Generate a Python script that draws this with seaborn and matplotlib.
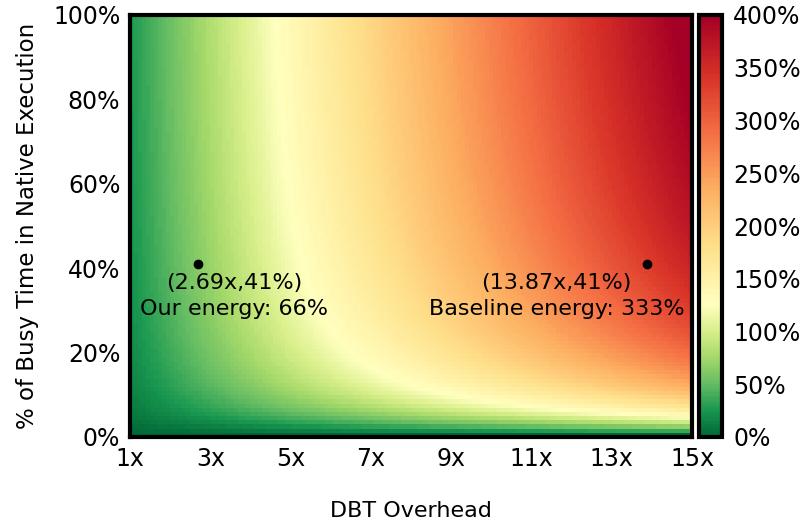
import numpy as np
import pandas as pd
import matplotlib
matplotlib.use("Agg")
import matplotlib.pyplot as plt
import seaborn as sns
from matplotlib.colors import ListedColormap

# ---- data ----
overhead = np.round(np.arange(1.0, 15.0001, 0.1), 1)      # DBT overhead grid (x)
busy = np.round(np.arange(0.0, 1.00001, 0.01), 2)         # busy fraction grid (y)
dyn_power_ratio = 0.273     # energy model parameter
idle_power_ratio = 0.10     # energy model parameter
x_tick_labels = ["1x", "3x", "5x", "7x", "9x", "11x", "13x", "15x"]
y_tick_labels = ["0%", "20%", "40%", "60%", "80%", "100%"]
cbar_ticks = [0, 50, 100, 150, 200, 250, 300, 350, 400]
point_overhead = [2.69, 13.87]
point_busy = [0.41, 0.41]
point_labels = ["(2.69x,41%)\nOur energy: 66%", "(13.87x,41%)\nBaseline energy: 333%"]

# ---- surface ----
X, B = np.meshgrid(overhead, busy)
energy = 100 * dyn_power_ratio * B * X / (B + idle_power_ratio * (1 - B))
df = pd.DataFrame(energy, index=busy, columns=overhead).iloc[::-1]

# colormap: RdYlGn_r with the light yellow centre at 125%
base = plt.get_cmap("RdYlGn_r")
n1, n2 = 80, 176
cmap = ListedColormap(base(np.concatenate([np.linspace(0, 0.5, n1, endpoint=False),
                                           np.linspace(0.5, 1, n2)])))

fig = plt.figure(figsize=(8.05, 5.22), dpi=100)
ax = fig.add_axes([130 / 805, 85 / 522, 562 / 805, 422 / 522])
cax = fig.add_axes([699 / 805, 85 / 522, 23 / 805, 422 / 522])

sns.heatmap(df, ax=ax, cmap=cmap, vmin=0, vmax=400, cbar_ax=cax,
            xticklabels=False, yticklabels=False)

ncols, nrows = df.shape[1], df.shape[0]
ax.set_xticks(np.linspace(0, ncols, len(x_tick_labels)))
ax.set_xticklabels(x_tick_labels, fontsize=17, rotation=0)
ax.set_yticks(np.linspace(nrows, 0, len(y_tick_labels)))
ax.set_yticklabels(y_tick_labels, fontsize=17, rotation=0)
ax.tick_params(length=0, pad=7)
ax.set_xlabel("DBT Overhead", fontsize=16, labelpad=22)
ax.set_ylabel("% of Busy Time in Native Execution", fontsize=16.5, labelpad=10)

for s in ax.spines.values():
    s.set_visible(True)
    s.set_linewidth(3)
    s.set_color("black")

def to_pos(xv, bv):
    return (xv - 1) / 14 * ncols, (1 - bv) * nrows

offsets = [(26, -23), (-65, -23)]
for xv, bv, lab, off in zip(point_overhead, point_busy, point_labels, offsets):
    px, py = to_pos(xv, bv)
    ax.plot(px, py, "o", color="black", ms=6)
    ax.annotate(lab, (px, py), xytext=off, textcoords="offset points",
                ha="center", va="center", multialignment="center",
                fontsize=16, linespacing=1.4)

cbar = ax.collections[0].colorbar
cbar.set_ticks(cbar_ticks)
cbar.set_ticklabels([f"{t}%" for t in cbar_ticks])
cbar.ax.tick_params(length=0, labelsize=17, pad=8)
cbar.outline.set_visible(True)
cbar.outline.set_linewidth(3)
cbar.outline.set_edgecolor("black")

fig.savefig("out.png", dpi=100)
